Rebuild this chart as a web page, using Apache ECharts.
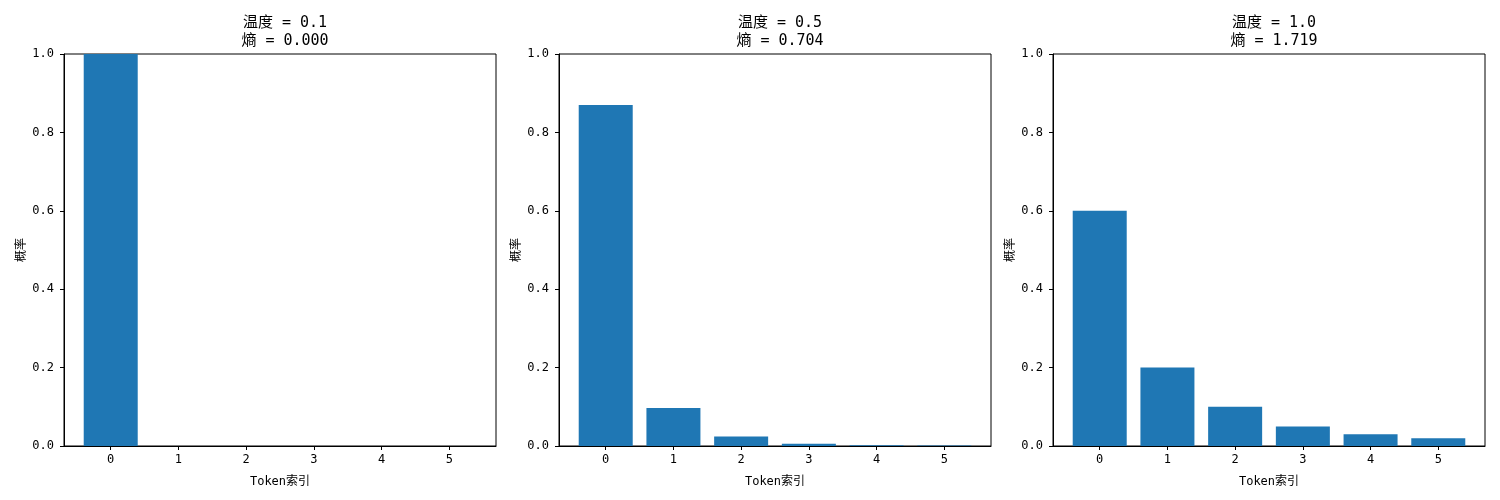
<!DOCTYPE html>
<html>
<head>
<meta charset="utf-8">
<script src="https://cdn.jsdelivr.net/npm/echarts@6/dist/echarts.min.js"></script>
<style>html,body{margin:0;padding:0;background:#fff;}#c{width:1500px;height:500px;}</style>
</head>
<body>
<div id="c"></div>
<script>
var tokens = [0, 1, 2, 3, 4, 5];
var temperatureLabels = ['0.1', '0.5', '1.0'];
var entropyLabels = ['0.000', '0.704', '1.719'];
var probsT01 = [1.0, 0.0, 0.0, 0.0, 0.0, 0.0];
var probsT05 = [0.870, 0.097, 0.024, 0.006, 0.002, 0.001];
var probsT10 = [0.60, 0.20, 0.10, 0.05, 0.03, 0.02];

var allProbs = [probsT01, probsT05, probsT10];
var lefts = [64, 559, 1053];
var W = 432;
var font = "'DejaVu Sans Mono', 'Noto Sans CJK SC', sans-serif";

var grids = [], xAxes = [], yAxes = [], series = [], titles = [];
for (var i = 0; i < 3; i++) {
  grids.push({left: lefts[i], top: 54, width: W, height: 392, show: true, borderColor: '#000', borderWidth: 1, backgroundColor: 'transparent'});
  titles.push({
    text: '温度 = ' + temperatureLabels[i] + '\n熵 = ' + entropyLabels[i],
    left: lefts[i] + W / 2, top: 9, textAlign: 'center',
    textStyle: {fontSize: 15, fontWeight: 'normal', color: '#000', lineHeight: 18, fontFamily: font}
  });
  xAxes.push({
    type: 'value', gridIndex: i, min: -0.69, max: 5.69,
    name: 'Token索引', nameLocation: 'middle', nameGap: 30,
    nameTextStyle: {fontSize: 12, color: '#000', fontFamily: font},
    splitLine: {show: false},
    axisLine: {show: true, onZero: false, lineStyle: {color: '#000', width: 1}},
    axisTick: {show: true, length: 4, lineStyle: {color: '#000'}, customValues: tokens},
    axisLabel: {color: '#000', fontSize: 12, margin: 8, fontFamily: font, customValues: tokens,
      formatter: function (v) { return String(Math.round(v)); }}
  });
  yAxes.push({
    type: 'value', gridIndex: i, min: 0, max: 1, interval: 0.2,
    name: '概率', nameLocation: 'middle', nameGap: 36,
    nameTextStyle: {fontSize: 12, color: '#000', fontFamily: font},
    splitLine: {show: false},
    axisLine: {show: true, onZero: false, lineStyle: {color: '#000', width: 1}},
    axisTick: {show: true, length: 4, lineStyle: {color: '#000'}},
    axisLabel: {color: '#000', fontSize: 12, margin: 10, fontFamily: font,
      formatter: function (v) { return v.toFixed(1); }}
  });
  series.push({
    type: 'bar', xAxisIndex: i, yAxisIndex: i, barWidth: 54,
    itemStyle: {color: '#1f77b4'},
    data: tokens.map(function (t, k) { return [t, allProbs[i][k]]; })
  });
}

var chart = echarts.init(document.getElementById('c'), null, {renderer: 'canvas'});
chart.setOption({
  animation: false,
  backgroundColor: '#fff',
  title: titles,
  grid: grids,
  xAxis: xAxes,
  yAxis: yAxes,
  series: series
});
</script>
</body>
</html>
